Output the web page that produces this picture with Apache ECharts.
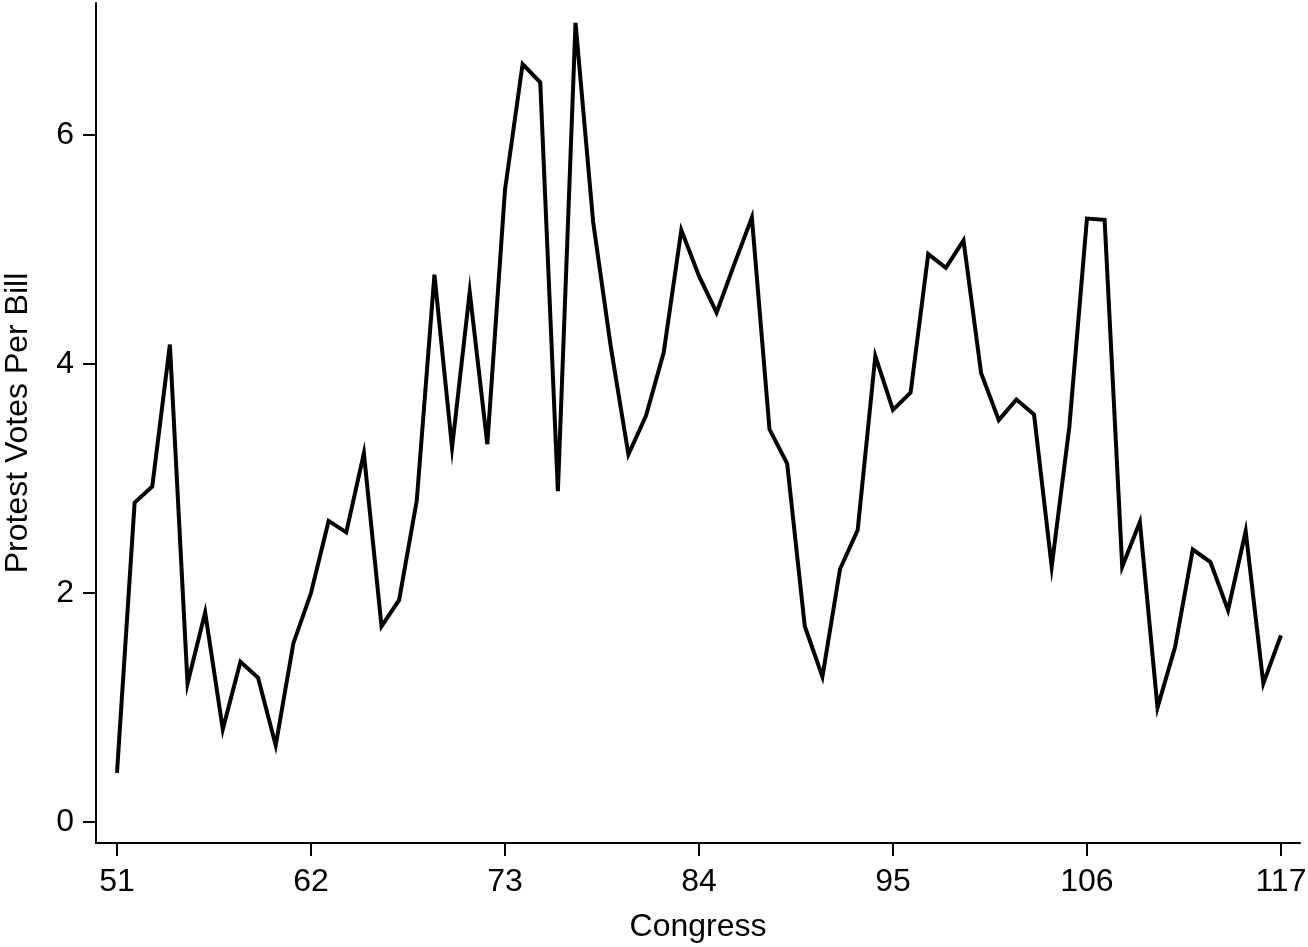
<!DOCTYPE html>
<html>
<head>
<meta charset="utf-8">
<script src="https://cdn.jsdelivr.net/npm/echarts@6/dist/echarts.min.js"></script>
<style>
html,body{margin:0;padding:0;background:#fff;}
#chart{width:1308px;height:947px;}
</style>
</head>
<body>
<div id="chart"></div>
<script>
// Congress numbers (x values)
var congress = [51,52,53,54,55,56,57,58,59,60,61,62,63,64,65,66,67,68,69,70,
  71,72,73,74,75,76,77,78,79,80,81,82,83,84,85,86,87,88,89,90,
  91,92,93,94,95,96,97,98,99,100,101,102,103,104,105,106,107,108,109,110,
  111,112,113,114,115,116,117];
// Protest votes per bill
var protestVotes = [0.43,2.79,2.93,4.17,1.21,1.83,0.81,1.40,1.26,0.67,1.56,2.00,2.63,2.53,3.22,1.71,1.94,2.81,4.78,3.27,
  4.63,3.30,5.52,6.62,6.46,2.89,6.98,5.24,4.15,3.21,3.55,4.10,5.17,4.77,4.45,4.87,5.28,3.43,3.13,1.71,
  1.27,2.21,2.55,4.07,3.60,3.75,4.96,4.84,5.08,3.92,3.51,3.69,3.56,2.23,3.45,5.27,5.26,2.23,2.62,1.00,
  1.53,2.38,2.27,1.85,2.54,1.21,1.63];
var xTicks = [51,62,73,84,95,106,117];
var yTicks = [0,2,4,6];

var seriesData = congress.map(function(c,i){ return [c, protestVotes[i]]; });

var font = 'Liberation Sans, Arial, Helvetica, sans-serif';
var chart = echarts.init(document.getElementById('chart'), null, {renderer:'canvas'});
chart.setOption({
  animation:false,
  backgroundColor:'#ffffff',
  grid:{left:96,right:8,top:3,bottom:104,containLabel:false,outerBoundsMode:'none'},
  xAxis:{
    type:'value', min:49.81, max:118.08,
    name:'Congress', nameLocation:'middle', nameGap:68,
    nameTextStyle:{fontFamily:font,fontSize:32,color:'#000'},
    axisLine:{show:true,onZero:false,lineStyle:{color:'#000',width:2}},
    axisTick:{show:true,length:13,lineStyle:{color:'#000',width:2},customValues:xTicks},
    axisLabel:{show:true,margin:23,fontFamily:font,fontSize:32,color:'#000',customValues:xTicks},
    splitLine:{show:false}
  },
  yAxis:{
    type:'value', min:-0.183, max:7.153,
    name:'Protest Votes Per Bill', nameLocation:'middle', nameGap:62, nameRotate:90,
    nameTextStyle:{fontFamily:font,fontSize:32,color:'#000'},
    axisLine:{show:true,onZero:false,lineStyle:{color:'#000',width:2}},
    axisTick:{show:true,length:13,lineStyle:{color:'#000',width:2},customValues:yTicks},
    axisLabel:{show:true,margin:22,fontFamily:font,fontSize:32,color:'#000',customValues:yTicks},
    splitLine:{show:false}
  },
  series:[{
    type:'line',
    data:seriesData,
    showSymbol:false,
    symbol:'none',
    clip:false,
    lineStyle:{color:'#000',width:4,join:'miter',miterLimit:10},
    silent:true
  }]
});
</script>
</body>
</html>
